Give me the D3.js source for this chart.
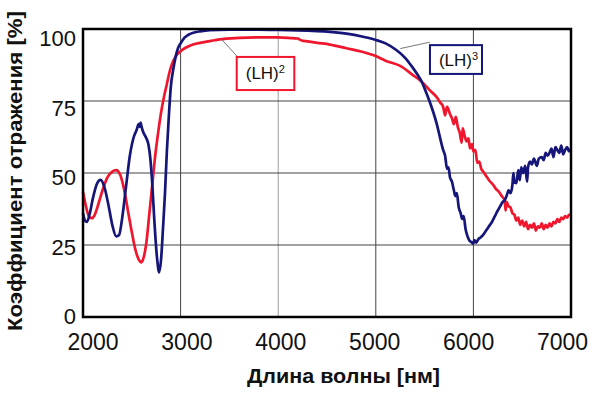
<!DOCTYPE html>
<html><head><meta charset="utf-8">
<script src="https://cdn.jsdelivr.net/npm/d3@7"></script>
<style>html,body{margin:0;padding:0;background:#fff;}svg{display:block;}</style>
</head><body>
<svg id="chart" width="600" height="395"></svg>
<script>
// ---- data ----
const xTicks = [2000, 3000, 4000, 5000, 6000, 7000];
const yTicks = [0, 25, 50, 75, 100];
const seriesNames = ["(LH)2", "(LH)3"];
const lh2Data = [
[2000,43.5],[2030,38.5],[2060,35],[2090,34.3],[2120,35.5],[2160,39.5],[2200,44],[2250,48.5],[2300,50.5],[2340,51],
[2380,49.5],[2420,44.5],[2460,37],[2500,29.5],[2540,23],[2570,20],[2600,19],[2620,20.5],[2650,26],[2680,36],
[2710,46],[2740,56],[2770,64],[2800,71],[2830,76.5],[2860,81],[2890,85.5],[2920,88.5],[2960,91],[3000,92.3],
[3050,93.5],[3100,94.3],[3200,95.2],[3300,95.8],[3400,96.4],[3600,96.9],[3800,97.1],[4000,97.1],[4150,96.8],[4200,96.7],
[4220,96.3],[4240,96.0],[4300,95.7],[4400,95.2],[4530,94.6],[4700,93.3],[4850,92.2],[5000,90.6],[5100,89],[5250,87.2],
[5380,84],[5470,81.7],[5560,78.5],[5620,76.5],[5660,74.5],[5690,73],[5710,70],[5730,73],[5760,70.5],[5780,69],
[5800,67],[5820,69.5],[5840,66],[5860,64],[5880,60.5],[5890,65.5],[5910,63],[5930,61],[5950,62],[5965,58.5],
[5985,60],[6000,57.5],[6020,58],[6040,53.5],[6060,54],[6080,51.5],[6100,50.5],[6130,49],[6160,47.5],[6200,46],
[6230,44.5],[6260,43.5],[6290,42],[6320,40.5],[6330,37],[6340,40],[6360,38.5],[6380,38],[6400,36],[6420,35.5],
[6440,33.5],[6460,34.5],[6480,32],[6500,33.5],[6520,31.5],[6540,33],[6560,30.5],[6580,32],[6600,31],[6620,32.5],
[6640,30],[6660,31.5],[6680,31],[6700,32.5],[6720,30.5],[6740,32],[6760,31],[6780,32.5],[6800,31.5],[6820,33],
[6840,32.5],[6860,34],[6880,33],[6900,34.5],[6920,34],[6940,35],[6960,34.5],[6980,35.5],[7000,35.5]
];
const lh3Data = [
[2000,36],[2020,33.5],[2040,33],[2070,36],[2100,41],[2140,46],[2180,47.6],[2220,45],[2260,39],[2300,32],
[2340,28],[2370,28.5],[2400,34],[2440,45],[2480,56],[2520,62.5],[2550,65],[2570,67],[2580,66],[2590,67.5],
[2600,66],[2620,64],[2650,62],[2670,60],[2690,55],[2710,46],[2730,34],[2760,20],[2780,15.5],[2800,20],
[2820,31],[2840,43],[2860,58],[2880,70],[2900,80],[2925,86],[2950,90.5],[2975,93.5],[3000,95],[3040,97],
[3080,98],[3140,98.8],[3200,99.2],[3300,99.6],[3500,99.8],[3800,99.8],[4000,99.7],[4300,99.4],[4500,99.1],[4700,98.4],
[4870,97.3],[5000,96.2],[5100,95],[5210,92.7],[5300,90],[5380,86.5],[5430,84],[5470,81.7],[5510,78.5],[5555,74.5],
[5590,71],[5625,67],[5660,62],[5690,58],[5710,56],[5730,51.5],[5745,52],[5760,48.5],[5780,47],[5800,44],
[5815,42],[5830,43],[5850,38],[5870,36],[5885,34],[5900,35],[5920,30.5],[5940,28],[5960,26.5],[5980,26],
[6000,25.5],[6010,26.7],[6030,25.8],[6050,27],[6070,27.5],[6100,28.5],[6130,30],[6160,31.5],[6190,33],[6220,35],
[6250,37],[6275,38.5],[6300,40],[6320,40.5],[6340,42],[6360,44],[6380,43],[6400,46],[6410,50],[6420,47],
[6440,46.5],[6460,51],[6475,47.5],[6490,52],[6510,50],[6530,52.5],[6550,47],[6560,52],[6580,54],[6600,53],
[6620,55],[6650,52.5],[6670,55],[6700,55.5],[6720,54.5],[6740,57],[6760,56],[6780,57],[6800,58.5],[6820,55.5],
[6840,59],[6860,58],[6880,57],[6900,59.5],[6920,56.5],[6940,58],[6960,59],[6980,57.5],[7000,58.5]
];

// ---- layout ----
const L = 83, R = 571, T = 29, B = 317;
const svg = d3.select("#chart");
const x = d3.scaleLinear().domain([2000, 7000]).range([L, R]);
const y = d3.scaleLinear().domain([0, 100]).range([B, T]);
// label placement scales (labels drift slightly from gridlines in the original)
const xLab = d3.scaleLinear().domain([2000, 7000]).range([92.5, 562]);
const yLab = d3.scaleLinear().domain([0, 100]).range([316, 38]);
const RED = "#f0162e", NAVY = "#15157a";
const font = "'Liberation Sans', Arial, sans-serif";

// grid
svg.append("g").selectAll("line").data(xTicks.filter(d => d > 2000 && d < 7000)).join("line")
  .attr("x1", d => x(d)).attr("x2", d => x(d)).attr("y1", T).attr("y2", B)
  .attr("stroke", d => d === 4000 ? "#9a9a9a" : "#444").attr("stroke-width", 1);
svg.append("g").selectAll("line").data(yTicks.filter(d => d > 0 && d < 100)).join("line")
  .attr("x1", L).attr("x2", R).attr("y1", d => y(d)).attr("y2", d => y(d))
  .attr("stroke", "#444").attr("stroke-width", 1);

// curves
const line = d3.line().x(d => x(d[0])).y(d => y(d[1])).curve(d3.curveMonotoneX);
svg.append("path").datum(lh2Data).attr("d", line).attr("fill", "none")
  .attr("stroke", RED).attr("stroke-width", 2.7).attr("stroke-linejoin", "round");
svg.append("path").datum(lh3Data).attr("d", line).attr("fill", "none")
  .attr("stroke", NAVY).attr("stroke-width", 2.7).attr("stroke-linejoin", "round");

// frame
svg.append("rect").attr("x", L).attr("y", T).attr("width", R - L).attr("height", B - T)
  .attr("fill", "none").attr("stroke", "#000").attr("stroke-width", 2.5);

// axes
const xAxis = svg.append("g").attr("transform", `translate(0,${B + 33})`)
  .call(d3.axisBottom(xLab).tickValues(xTicks).tickSize(0).tickPadding(0).tickFormat(d3.format("d")));
xAxis.select(".domain").remove();
xAxis.selectAll("text").attr("font-family", font).attr("font-size", 23).attr("fill", "#111")
  .attr("dy", 0).attr("y", 0);

const yAxis = svg.append("g").attr("transform", `translate(76,0)`)
  .call(d3.axisLeft(yLab).tickValues(yTicks).tickSize(0).tickPadding(0));
yAxis.select(".domain").remove();
yAxis.selectAll("text").attr("font-family", font).attr("font-size", 22).attr("fill", "#111")
  .attr("dy", "0.36em");

// axis titles
svg.append("text").attr("x", 343.5).attr("y", 383).attr("text-anchor", "middle")
  .attr("font-family", font).attr("font-weight", "bold").attr("font-size", 19.5).attr("fill", "#111")
  .attr("textLength", 193).attr("lengthAdjust", "spacingAndGlyphs")
  .text("Длина волны [нм]");
svg.append("text").attr("transform", "translate(22,171) rotate(-90)").attr("text-anchor", "middle")
  .attr("font-family", font).attr("font-weight", "bold").attr("font-size", 20.5).attr("fill", "#111")
  .attr("textLength", 320).attr("lengthAdjust", "spacingAndGlyphs")
  .text("Коэффициент отражения [%]");

// annotations
function label(box, color, base, sup, lead) {
  const g = svg.append("g");
  g.append("line").attr("x1", x(lead[0])).attr("y1", y(lead[1]))
    .attr("x2", x(box.x0) + (box.leadDx || 0)).attr("y2", y(box.y1) + (box.leadDy || 0))
    .attr("stroke", "#555").attr("stroke-width", 0.8);
  g.append("rect").attr("x", x(box.x0)).attr("y", y(box.y1))
    .attr("width", x(box.x1) - x(box.x0)).attr("height", y(box.y0) - y(box.y1))
    .attr("fill", "#fff").attr("stroke", color).attr("stroke-width", 2);
  const t = g.append("text").attr("x", x(box.x0) + box.pad).attr("y", (y(box.y0) + y(box.y1)) / 2 + 6)
    .attr("font-family", font).attr("font-size", 17).attr("fill", "#111");
  t.append("tspan").text(base);
  t.append("tspan").attr("font-size", 11).attr("dy", -6).text(sup);
}
label({x0: 3575, x1: 4165, y0: 78.8, y1: 90.3, pad: 9, leadDx: 1}, RED, "(LH)", "2", [3420, 96.4]);
label({x0: 5555, x1: 6088, y0: 84.4, y1: 94.4, pad: 9, leadDy: -3}, NAVY, "(LH)", "3", [5250, 93.2]);
</script>
</body></html>
